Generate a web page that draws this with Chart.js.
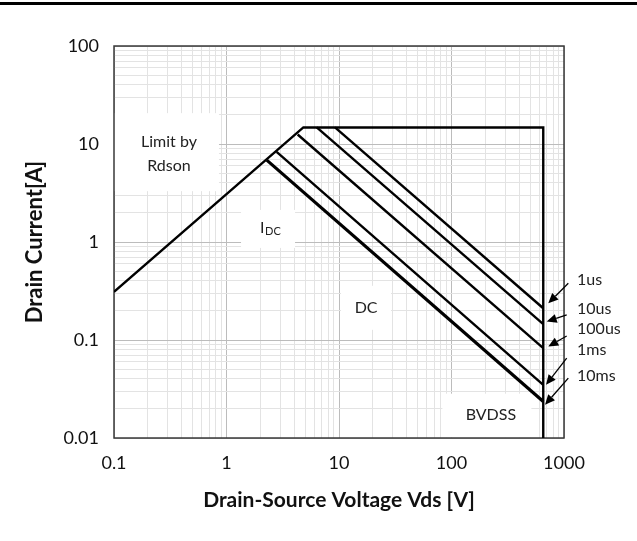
<!DOCTYPE html>
<html lang="en">
<head>
<meta charset="UTF-8">
<title>SOA</title>
<script src="https://cdn.jsdelivr.net/npm/chart.js@4.4.0/dist/chart.umd.min.js"></script>
<style>
    body { margin: 0; background: #fff; }
    #wrap { width: 637px; height: 541px; position: relative; }
</style>
</head>
<body>
<div id="wrap"><canvas id="soa"></canvas></div>
<script>
// tick labels (decades)
const xMajor = [0.1, 1, 10, 100, 1000];
const yMajor = [0.01, 0.1, 1, 10, 100];

// outer limit: Rdson -> current limit -> BVDSS
const limitV = [0.1, 4.82, 654, 654];
const limitI = [0.31, 14.75, 14.75, 0.01];

// pulse lines, start point on the limit, end on BVDSS
const pulseNames = ['10ms', '1ms', '100us', '10us', '1us'];
const pulseStartV = [2.28, 2.79, 4.29, 6.34, 9.21];
const pulseStartI = [6.84, 8.32, 12.5, 14.75, 14.75];
const pulseEndV = [654, 654, 654, 654, 654];
const pulseEndI = [0.0236, 0.0349, 0.0826, 0.145, 0.211];

// arrows label -> line end
const arrowTailV = [1092, 1057, 1057, 1057, 1092];
const arrowTailI = [0.0408, 0.0653, 0.110, 0.180, 0.379];
const arrowTipV = [678, 692, 725, 702, 725];
const arrowTipI = [0.0218, 0.0349, 0.0858, 0.154, 0.237];
const labelV = [1306, 1306, 1306, 1306, 1306];
const labelI = [0.0431, 0.0794, 0.130, 0.2075, 0.410];

// region notes
const noteText = ['Limit by|Rdson', 'I|DC', 'DC', 'BVDSS'];
const noteV = [0.308, 2.34, 17.4, 224];
const noteI = [7.88, 1.36, 0.213, 0.0173];

const FONT = 'Lato, "Open Sans", sans-serif';

function logTicks(majors) {
    let out = [];
    for (let k = 0; k < majors.length - 1; k++) {
        for (let s = 1; s < 10; s++) {
            out.push(+(s * majors[k]).toPrecision(3));
        }
    }
    out.push(majors[majors.length - 1]);
    return out.map(v => ({ value: v, major: majors.includes(v) }));
}

function pts(xs, ys) {
    return xs.map((x, i) => ({ x: x, y: ys[i] }));
}

let datasets = [{
    label: 'limit',
    data: pts(limitV, limitI),
    borderColor: '#000',
    borderWidth: 2.4
}];
for (let i = 0; i < pulseNames.length; i++) {
    datasets.push({
        label: pulseNames[i],
        data: pts([pulseStartV[i], pulseEndV[i]], [pulseStartI[i], pulseEndI[i]]),
        borderColor: '#000',
        borderWidth: i == 0 ? 3.2 : 2.4
    });
}

const notesPlugin = {
    id: 'notes',
    beforeDraw(chart) {
        const c = chart.ctx;
        c.save();
        c.fillStyle = '#000';
        c.fillRect(0, 2, chart.width, 3);
        c.restore();
    },
    beforeDatasetsDraw(chart) {
        const c = chart.ctx, xs = chart.scales.x, ys = chart.scales.y, a = chart.chartArea;
        const boxes = [[106, 78, -3, -2], [54, 38, 0, 0], [50, 44, 0, 0], [89, 44, -4, 1]];
        c.save();
        c.fillStyle = '#fff';
        for (let i = 0; i < noteText.length; i++) {
            const px = xs.getPixelForValue(noteV[i]) + boxes[i][2];
            const py = ys.getPixelForValue(noteI[i]) + boxes[i][3];
            c.fillRect(px - boxes[i][0] / 2, py - boxes[i][1] / 2, boxes[i][0], boxes[i][1]);
        }
        c.strokeStyle = '#3a3a3a';
        c.lineWidth = 1.5;
        c.strokeRect(a.left, a.top, a.right - a.left, a.bottom - a.top);
        c.restore();
    },
    afterDatasetsDraw(chart) {
        const c = chart.ctx, xs = chart.scales.x, ys = chart.scales.y;
        c.save();
        c.fillStyle = '#222';
        c.textBaseline = 'middle';
        c.font = '16px ' + FONT;
        // region notes
        for (let i = 0; i < noteText.length; i++) {
            const px = xs.getPixelForValue(noteV[i]);
            const py = ys.getPixelForValue(noteI[i]);
            const parts = noteText[i].split('|');
            if (i == 0) {
                c.textAlign = 'center';
                c.fillText(parts[0], px, py - 12);
                c.fillText(parts[1], px, py + 12);
            } else if (i == 1) {
                c.textAlign = 'left';
                c.fillText(parts[0], px - 8, py - 1);
                c.font = '11px ' + FONT;
                c.fillText(parts[1], px - 3, py + 3);
                c.font = '16px ' + FONT;
            } else {
                c.textAlign = 'center';
                c.fillText(parts[0], px, py);
            }
        }
        // arrows and pulse labels
        c.strokeStyle = '#000';
        c.fillStyle = '#000';
        c.lineWidth = 1.3;
        for (let i = 0; i < pulseNames.length; i++) {
            const x0 = xs.getPixelForValue(arrowTailV[i]), y0 = ys.getPixelForValue(arrowTailI[i]);
            const x1 = xs.getPixelForValue(arrowTipV[i]), y1 = ys.getPixelForValue(arrowTipI[i]);
            const ang = Math.atan2(y1 - y0, x1 - x0);
            const hl = 10, hw = 4.5;
            const bx = x1 - hl * Math.cos(ang), by = y1 - hl * Math.sin(ang);
            c.beginPath();
            c.moveTo(x0, y0);
            c.lineTo(bx, by);
            c.stroke();
            c.beginPath();
            c.moveTo(x1, y1);
            c.lineTo(bx + hw * Math.sin(ang), by - hw * Math.cos(ang));
            c.lineTo(bx - hw * Math.sin(ang), by + hw * Math.cos(ang));
            c.closePath();
            c.fill();
            c.fillStyle = '#222';
            c.textAlign = 'left';
            c.fillText(pulseNames[i], xs.getPixelForValue(labelV[i]), ys.getPixelForValue(labelI[i]));
            c.fillStyle = '#000';
        }
        c.restore();
    }
};

function gridColor(majors) {
    return (ctx) => (ctx.tick && majors.includes(ctx.tick.value)) ? '#bcbcbc' : '#e3e3e3';
}

const ctx = document.getElementById('soa').getContext('2d');
const soaChart = new Chart(ctx, {
    type: 'line',
    data: { datasets: datasets },
    options: {
        responsive: true,
        maintainAspectRatio: false,
        animation: false,
        layout: { padding: { left: 0, top: 46, right: 73, bottom: 0 } },
        elements: { point: { radius: 0 }, line: { tension: 0 } },
        plugins: { legend: { display: false }, tooltip: { enabled: false } },
        scales: {
            x: {
                type: 'logarithmic',
                min: 0.1,
                max: 1000,
                afterBuildTicks: (s) => { s.ticks = logTicks(xMajor); },
                afterFit: (s) => { s.height = 103; },
                grid: { color: gridColor(xMajor), lineWidth: 1, drawTicks: false },
                border: { display: false },
                ticks: {
                    autoSkip: false,
                    maxRotation: 0,
                    padding: 14,
                    color: '#111',
                    font: { family: FONT, size: 18 },
                    callback: (v) => xMajor.includes(v) ? String(v) : ''
                },
                title: {
                    display: true,
                    text: 'Drain-Source Voltage Vds [V]',
                    color: '#111',
                    font: { family: FONT, size: 21, weight: 'bold' },
                    padding: { top: 0, bottom: 28 }
                }
            },
            y: {
                type: 'logarithmic',
                min: 0.01,
                max: 100,
                afterBuildTicks: (s) => { s.ticks = logTicks(yMajor); },
                afterFit: (s) => { s.width = 114; },
                grid: { color: gridColor(yMajor), lineWidth: 1, drawTicks: false },
                border: { display: false },
                ticks: {
                    autoSkip: false,
                    padding: 15,
                    color: '#111',
                    font: { family: FONT, size: 18 },
                    callback: (v) => yMajor.includes(v) ? String(v) : ''
                },
                title: {
                    display: true,
                    text: 'Drain Current[A]',
                    color: '#111',
                    font: { family: FONT, size: 22, weight: 'bold' },
                    padding: { top: 22, bottom: 0 }
                }
            }
        }
    },
    plugins: [notesPlugin]
});
</script>
</body>
</html>
